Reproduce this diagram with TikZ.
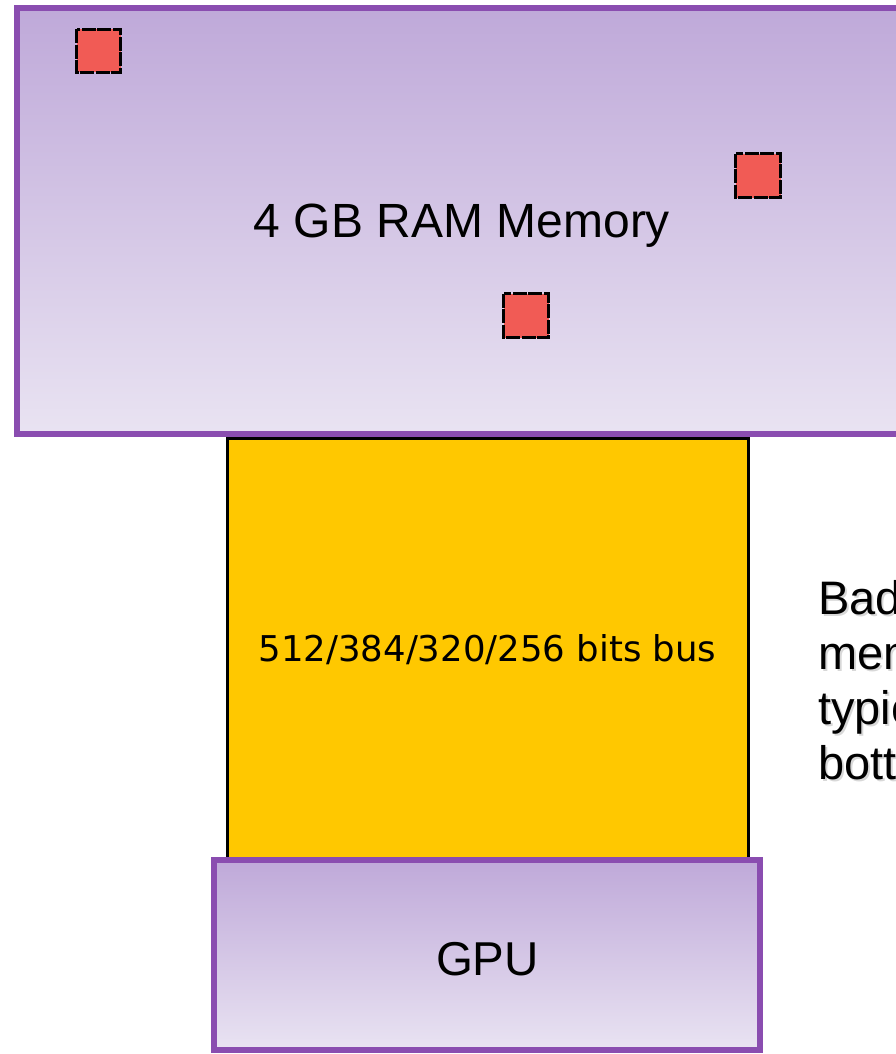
\documentclass[tikz,border=0pt]{standalone}
\usepackage{fontspec}
\setmainfont{Liberation Sans}
\newfontfamily\busfont{DejaVu Sans}
\definecolor{purpleborder}{HTML}{8A4DB0}
\definecolor{lavtop}{HTML}{BFA9D9}
\definecolor{lavbot}{HTML}{E9E3F2}
\definecolor{busyellow}{HTML}{FFC800}
\definecolor{redsq}{HTML}{F15B55}
\tikzset{
  purplebox/.style={draw=purpleborder, line width=6pt, top color=lavtop, bottom color=lavbot},
  busbox/.style={draw=black, line width=3pt, fill=busyellow},
  redbox/.style={draw=black, line width=3pt, fill=redsq, dash pattern=on 14pt off 1.5pt},
  bigtext/.style={font=\fontsize{48}{55}\selectfont, text=black, inner sep=0pt, anchor=base},
  sidetext/.style={font=\fontsize{47}{55}\selectfont, inner sep=0pt, anchor=base west},
}
\begin{document}
\begin{tikzpicture}[x=1pt,y=-1pt]
\useasboundingbox (0,0) rectangle (896,1054);
\clip (0,0) rectangle (896,1054);
% memory
\path[purplebox] (17,8) rectangle (920,434);
\node[bigtext] (mem) at (462,237) {4 GB RAM Memory};
\path[redbox] (76.5,29.5) rectangle (120.5,72.5);
\path[redbox] (735.5,153.5) rectangle (780.5,197.5);
\path[redbox] (503.5,293.5) rectangle (548.5,337.5);
% bus
\path[busbox] (227,438) rectangle (748,858);
\node[font=\busfont\fontsize{35.5}{40}\selectfont, inner sep=0pt, anchor=base] (bus) at (487.5,661) {512/384/320/256 bits bus};
% gpu
\path[purplebox] (214,860) rectangle (760,1050);
\node[bigtext, font=\fontsize{47.5}{55}\selectfont] (gpu) at (487.5,975) {GPU};
% side text with shadow
\foreach \t/\y [count=\i] in {Bad/614, mem/669, typic/724, bott/779}{
  \node[sidetext, text=black!30, opacity=0.5] (sh\i) at (820,\y+2) {\t};
  \node[sidetext] (s\i) at (818,\y) {\t};
}
\end{tikzpicture}
\end{document}
